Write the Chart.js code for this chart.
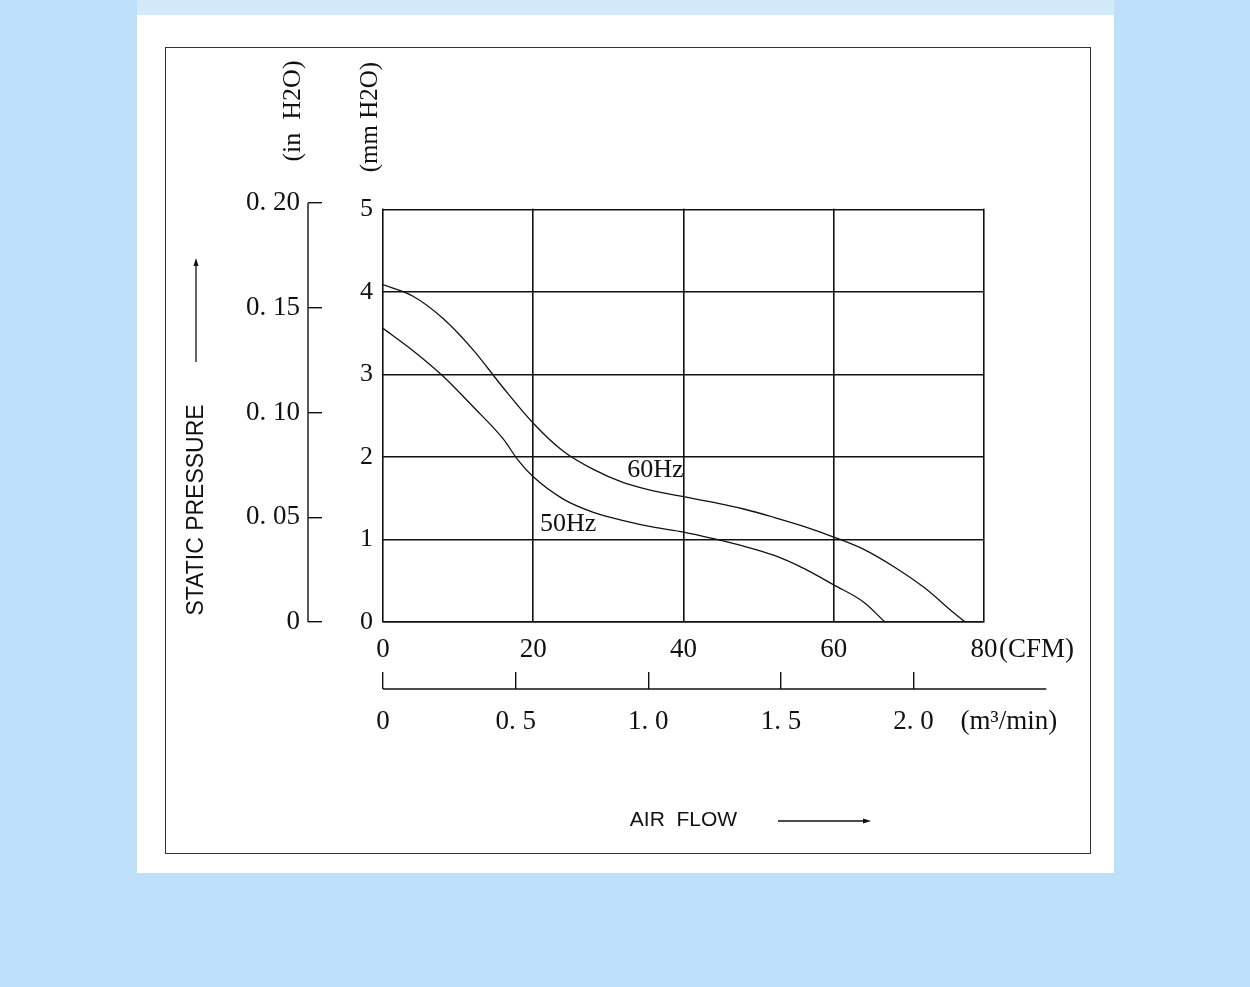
<!DOCTYPE html>
<html>
<head>
<meta charset="utf-8">
<script src="https://cdn.jsdelivr.net/npm/chart.js@4/dist/chart.umd.min.js"></script>
<style>
    body { margin: 0; width: 1250px; height: 987px; overflow: hidden; position: relative; background: #bee0fa; }
    .strip { position: absolute; left: 137px; top: 0; width: 977px; height: 15px; background: #d3eafb; }
    .panel { position: absolute; left: 137px; top: 15px; width: 977px; height: 858px; background: #fff; }
    .frame { position: absolute; left: 165px; top: 47px; width: 926px; height: 807px; box-sizing: border-box; border: 1.5px solid #333; }
    #chart { position: absolute; left: 0; top: 0; }
</style>
</head>
<body>
<div class="strip"></div>
<div class="panel"></div>
<div class="frame"></div>
<canvas id="chart" width="1250" height="987"></canvas>
<script>
// unit conversions
const MM_PER_IN = 25.4;
const CFM_PER_M3MIN = 35.3147;

// 60Hz curve: air flow (CFM) / static pressure (mm H2O)
const flow60 = [0, 4, 8, 12, 16, 20, 24, 28, 32, 36, 40, 44, 48, 52, 56, 60, 64, 68, 72, 76, 77.5];
const pres60 = [4.09, 3.95, 3.68, 3.30, 2.84, 2.41, 2.07, 1.85, 1.69, 1.59, 1.52, 1.45, 1.37, 1.27, 1.16, 1.03, 0.88, 0.67, 0.42, 0.11, 0];

// 50Hz curve
const flow50 = [0, 4, 8, 12, 16, 18, 20, 24, 28, 32, 36, 40, 44, 48, 52, 56, 60, 64, 66.8];
const pres50 = [3.56, 3.29, 2.98, 2.61, 2.22, 1.96, 1.76, 1.49, 1.33, 1.23, 1.15, 1.09, 1.01, 0.92, 0.81, 0.65, 0.45, 0.24, 0];

// tick values and labels
const cfmTicks = [0, 20, 40, 60, 80];
const m3Ticks = [0, 0.5, 1.0, 1.5, 2.0];
const m3Labels = ['0', '0. 5', '1. 0', '1. 5', '2. 0'];
const mmTicks = [0, 1, 2, 3, 4, 5];
const inTicks = [0, 0.05, 0.10, 0.15, 0.20];
const inLabels = ['0', '0. 05', '0. 10', '0. 15', '0. 20'];

const INK = '#111';
const SERIF = "'Liberation Serif', 'DejaVu Serif', serif";
const SANS = "'Liberation Sans', Arial, sans-serif";

function toPoints(xs, ys) {
    return xs.map((x, i) => ({ x: x, y: ys[i] }));
}

function setTicks(values) {
    return scale => { scale.ticks = values.map(v => ({ value: v })); };
}

const extras = {
    id: 'extras',
    beforeDatasetsDraw(chart) {
        // keep the vertical grid inside the 0..5 mm box
        const { ctx, chartArea, scales } = chart;
        const top5 = scales.y.getPixelForValue(5);
        ctx.save();
        ctx.fillStyle = '#fff';
        ctx.fillRect(chartArea.left - 2, chartArea.top - 2, chartArea.width + 4, top5 - chartArea.top + 1);
        ctx.restore();
    },
    afterDraw(chart) {
        const { ctx, chartArea, scales } = chart;
        const x = scales.x, x2 = scales.x2, y = scales.y, yIn = scales.yIn;
        ctx.save();
        ctx.strokeStyle = INK;
        ctx.fillStyle = INK;

        // inch axis line (ticks point inward)
        const inLineX = yIn.right - 14;
        ctx.lineWidth = 1.4;
        ctx.beginPath();
        ctx.moveTo(inLineX, yIn.getPixelForValue(0.2));
        ctx.lineTo(inLineX, yIn.getPixelForValue(0));
        ctx.stroke();

        // m3/min axis line
        const m3LineY = x2.top + 17;
        ctx.beginPath();
        ctx.moveTo(x2.getPixelForValue(0), m3LineY);
        ctx.lineTo(x2.getPixelForValue(2.5), m3LineY);
        ctx.stroke();

        // rotated unit labels
        ctx.textBaseline = 'middle';
        ctx.textAlign = 'center';
        ctx.save();
        ctx.translate(yIn.right - 29, 111);
        ctx.rotate(-Math.PI / 2);
        ctx.font = '26px ' + SERIF;
        ctx.fillText('(in  H2O)', 0, 0);
        ctx.restore();
        ctx.save();
        ctx.translate(chartArea.left - 13, 117);
        ctx.rotate(-Math.PI / 2);
        ctx.font = '25px ' + SERIF;
        ctx.fillText('(mm H2O)', 0, 0);
        ctx.restore();

        // unit labels after the scales
        ctx.textAlign = 'left';
        ctx.font = '27px ' + SERIF;
        ctx.fillText('(CFM)', x.getPixelForValue(80) + 15, 650);
        ctx.fillText('(m³/min)', x2.getPixelForValue(2.0) + 47, 722);

        // curve labels
        ctx.font = '26px ' + SERIF;
        ctx.fillText('60Hz', x.getPixelForValue(32.5), y.getPixelForValue(1.84));
        ctx.fillText('50Hz', x.getPixelForValue(20.9), y.getPixelForValue(1.19));

        // arrows
        ctx.lineWidth = 1.3;
        const ax = yIn.left + 16;
        ctx.beginPath();
        ctx.moveTo(ax, 362);
        ctx.lineTo(ax, 264);
        ctx.stroke();
        ctx.beginPath();
        ctx.moveTo(ax, 258);
        ctx.lineTo(ax - 2.5, 266);
        ctx.lineTo(ax + 2.5, 266);
        ctx.closePath();
        ctx.fill();

        const ay = 821;
        ctx.beginPath();
        ctx.moveTo(778, ay);
        ctx.lineTo(865, ay);
        ctx.stroke();
        ctx.beginPath();
        ctx.moveTo(871, ay);
        ctx.lineTo(863, ay - 2.5);
        ctx.lineTo(863, ay + 2.5);
        ctx.closePath();
        ctx.fill();

        ctx.restore();
    }
};

const lineStyle = {
    borderColor: INK,
    borderWidth: 1.3,
    pointRadius: 0,
    fill: false,
    cubicInterpolationMode: 'monotone'
};

new Chart(document.getElementById('chart'), {
    type: 'line',
    data: {
        datasets: [
            Object.assign({ label: '60Hz', data: toPoints(flow60, pres60), xAxisID: 'x', yAxisID: 'y' }, lineStyle),
            Object.assign({ label: '50Hz', data: toPoints(flow50, pres50), xAxisID: 'x', yAxisID: 'y' }, lineStyle)
        ]
    },
    options: {
        responsive: false,
        animation: false,
        devicePixelRatio: 1,
        layout: { padding: { left: 180, top: 203, right: 266, bottom: 145 } },
        plugins: {
            legend: { display: false },
            tooltip: { enabled: false }
        },
        scales: {
            x: {
                type: 'linear', position: 'bottom', min: 0, max: 80, weight: 0,
                afterBuildTicks: setTicks(cfmTicks),
                afterFit: s => { s.height = 50; },
                grid: { color: INK, lineWidth: 1.6, drawTicks: false },
                border: { display: true, color: INK, width: 1.6 },
                ticks: { color: INK, padding: 12, maxRotation: 0, font: { family: SERIF, size: 27 } }
            },
            x2: {
                type: 'linear', position: 'bottom', min: 0, max: 80 / CFM_PER_M3MIN, weight: 1,
                afterBuildTicks: setTicks(m3Ticks),
                afterFit: s => { s.height = 170; },
                grid: { drawOnChartArea: false, drawTicks: true, tickLength: 17, color: INK, lineWidth: 1.4 },
                border: { display: false },
                ticks: { color: INK, padding: 17, maxRotation: 0, font: { family: SERIF, size: 27 },
                    callback: (v, i) => m3Labels[i] },
                title: { display: true, text: 'AIR  FLOW', color: INK, align: 'center',
                    font: { family: SANS, size: 21 }, padding: { top: 0, bottom: 9 } }
            },
            y: {
                type: 'linear', position: 'left', min: 0, max: 0.2 * MM_PER_IN, weight: 0,
                afterBuildTicks: setTicks(mmTicks),
                afterFit: s => { s.width = 61; },
                grid: { color: INK, lineWidth: 1.6, drawTicks: false },
                border: { display: false },
                ticks: { color: INK, padding: 10, font: { family: SERIF, size: 26 } }
            },
            yIn: {
                type: 'linear', position: 'left', min: 0, max: 0.2, weight: 1,
                afterBuildTicks: setTicks(inTicks),
                afterFit: s => { s.width = 142; },
                grid: { drawOnChartArea: false, drawTicks: true, tickLength: 14, color: INK, lineWidth: 1.4 },
                border: { display: false },
                ticks: { color: INK, padding: 8, font: { family: SERIF, size: 27 },
                    callback: (v, i) => inLabels[i] },
                title: { display: true, text: ' STATIC PRESSURE', color: INK, align: 'start',
                    font: { family: SANS, size: 23 }, padding: { top: 3, bottom: 0 } }
            }
        }
    },
    plugins: [extras]
});
</script>
</body>
</html>
